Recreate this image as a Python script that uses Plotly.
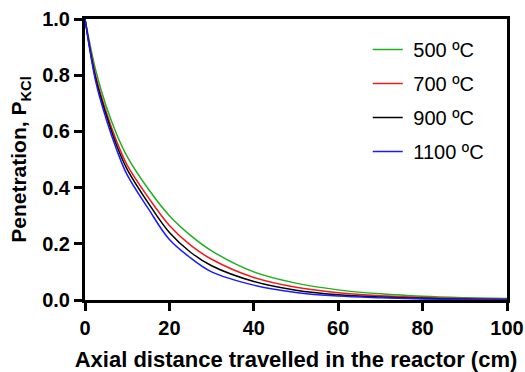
import plotly.graph_objects as go

# Axial position along the reactor (cm)
distance_cm = [0, 2.5, 5, 7.5, 10, 15, 20, 25, 30, 40, 50, 60, 70, 80, 90, 100]

# KCl penetration at each reactor temperature
p_500 = [1.0, 0.82, 0.69, 0.59, 0.51, 0.395, 0.30, 0.23, 0.175, 0.10, 0.060, 0.036, 0.022, 0.013, 0.008, 0.005]
p_700 = [1.0, 0.80, 0.67, 0.565, 0.48, 0.365, 0.265, 0.195, 0.145, 0.080, 0.045, 0.026, 0.015, 0.009, 0.005, 0.003]
p_900 = [1.0, 0.79, 0.66, 0.55, 0.465, 0.345, 0.240, 0.170, 0.122, 0.066, 0.035, 0.019, 0.011, 0.006, 0.003, 0.002]
p_1100 = [1.0, 0.78, 0.645, 0.535, 0.445, 0.325, 0.215, 0.150, 0.100, 0.053, 0.027, 0.014, 0.008, 0.004, 0.002, 0.001]

series_names = ["500 ºC", "700 ºC", "900 ºC", "1100 ºC"]
series_values = [p_500, p_700, p_900, p_1100]
series_colors = ["#1fb01f", "#ee1c1c", "#000000", "#1a1aff"]

x_ticks = [0, 20, 40, 60, 80, 100]
y_ticks = [0.0, 0.2, 0.4, 0.6, 0.8, 1.0]

FONT = "Arial, Liberation Sans, sans-serif"

fig = go.Figure()
for i, (name, vals, col) in enumerate(zip(series_names, series_values, series_colors)):
    fig.add_trace(go.Scatter(
        x=distance_cm, y=vals, name="\u00a0" + name, mode="lines",
        line=dict(color=col, width=1.5, shape="spline", smoothing=1.0),
        legendgroup=str(i),
    ))

axis_common = dict(
    showline=True, linecolor="black", linewidth=3, mirror=True,
    ticks="outside", ticklen=8, tickwidth=3, tickcolor="black",
    showgrid=False, zeroline=False, automargin=False,
    tickfont=dict(family=FONT, size=20, color="black", weight="bold"),
)

fig.update_layout(
    width=525, height=372,
    margin=dict(l=85, r=18, t=19, b=72),
    plot_bgcolor="white", paper_bgcolor="white",
    xaxis=dict(
        range=[0, 100], tickvals=x_ticks, ticktext=[str(v) for v in x_ticks],
        title=dict(text="<b>Axial distance travelled in the reactor (cm)</b>",
                   font=dict(family=FONT, size=22, color="black"), standoff=14),
        **axis_common,
    ),
    yaxis=dict(
        range=[0, 1], tickvals=y_ticks, ticktext=[f"{v:.1f}" for v in y_ticks],
        title=dict(text="<b>Penetration, P<sub>KCl</sub></b>",
                   font=dict(family=FONT, size=21, color="black"), standoff=10),
        **axis_common,
    ),
    legend=dict(
        x=0.67, y=0.961, xanchor="left", yanchor="top",
        bgcolor="rgba(0,0,0,0)", borderwidth=0,
        font=dict(family=FONT, size=20, color="black"),
        tracegroupgap=5,
    ),
    showlegend=True,
)

fig.write_html("out.html")
